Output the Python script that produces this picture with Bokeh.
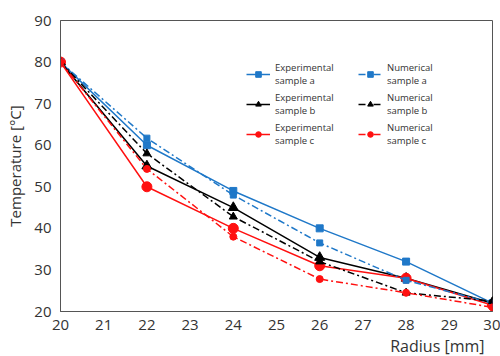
from bokeh.plotting import figure
from bokeh.models import Legend, LegendItem, Range1d, Title, FixedTicker
from bokeh.embed import file_html
from bokeh.resources import INLINE

radius = [20, 22, 24, 26, 28, 30]
exp_a = [80, 60, 49, 40, 32, 22]
num_a = [80, 61.7, 48, 36.5, 27.5, 22]
exp_b = [80, 55, 45, 33, 28, 22]
num_b = [80, 58, 42.8, 32, 24.5, 22.5]
exp_c = [80, 50, 40, 31, 28, 21.5]
num_c = [80, 54.3, 38, 27.8, 24.5, 21]

labels_exp = ["Experimental\nsample a", "Experimental\nsample b", "Experimental\nsample c"]
labels_num = ["Numerical\nsample a", "Numerical\nsample b", "Numerical\nsample c"]

BLUE = "#1f78c8"
RED = "#ff1010"
BLACK = "#000000"
FONT = "Open Sans"
DASH = "7 3 2 3"

p = figure(width=500, height=356, output_backend="svg", toolbar_location=None,
           x_range=Range1d(20, 30), y_range=Range1d(20, 90),
           min_border_left=60, min_border_right=8, min_border_top=20, min_border_bottom=0)
p.grid.visible = False
p.outline_line_color = "#555555"
p.outline_line_width = 1

for ax in (p.xaxis[0], p.yaxis[0]):
    ax.axis_line_color = "#555555"
    ax.major_tick_line_color = None
    ax.minor_tick_line_color = None
    ax.major_label_text_font = FONT
    ax.major_label_text_font_size = "15px"
    ax.major_label_text_color = "#333333"
    ax.major_label_standoff = 3
p.xaxis.major_label_standoff = 2
p.xaxis.ticker = FixedTicker(ticks=list(range(20, 31)))
p.yaxis.ticker = FixedTicker(ticks=list(range(20, 91, 10)))
p.yaxis.axis_label = "Temperature [°C]"
p.yaxis.axis_label_text_font = FONT
p.yaxis.axis_label_text_font_style = "normal"
p.yaxis.axis_label_text_font_size = "15px"
p.yaxis.axis_label_text_color = "#333333"
p.yaxis.axis_label_standoff = 6

xt = Title(text="Radius [mm]", align="right", text_font=FONT, text_font_size="16px",
           text_font_style="normal", text_color="#333333", offset=8, standoff=0)
p.add_layout(xt, "below")

series = [
    (exp_a, BLUE, "solid", "square", 7),
    (exp_b, BLACK, "solid", "triangle", 10),
    (exp_c, RED, "solid", "circle", 10),
    (num_a, BLUE, DASH, "square", 6),
    (num_b, BLACK, DASH, "triangle", 8),
    (num_c, RED, DASH, "circle", 7),
]
items_exp, items_num = [], []
for i, (ys, col, dash, mk, sz) in enumerate(series):
    ln = p.line(radius, ys, line_color=col, line_width=1.5, line_dash=dash)
    sc = p.scatter(radius, ys, marker=mk, size=sz, fill_color=col, line_color=col)
    if i < 3:
        items_exp.append(LegendItem(label=labels_exp[i], renderers=[ln, sc]))
    else:
        items_num.append(LegendItem(label=labels_num[i - 3], renderers=[ln, sc]))

for items, loc in ((items_exp, (186, 164)), (items_num, (298, 164))):
    lg = Legend(items=items, location=loc, border_line_color=None,
                background_fill_alpha=0, label_text_font=FONT,
                label_text_font_size="9.5px", label_text_color="#333333",
                glyph_width=24, glyph_height=14, spacing=4, label_standoff=5,
                label_height=26, padding=2, margin=0)
    p.add_layout(lg, "center")

open("out.html", "w").write(file_html(p, INLINE))
